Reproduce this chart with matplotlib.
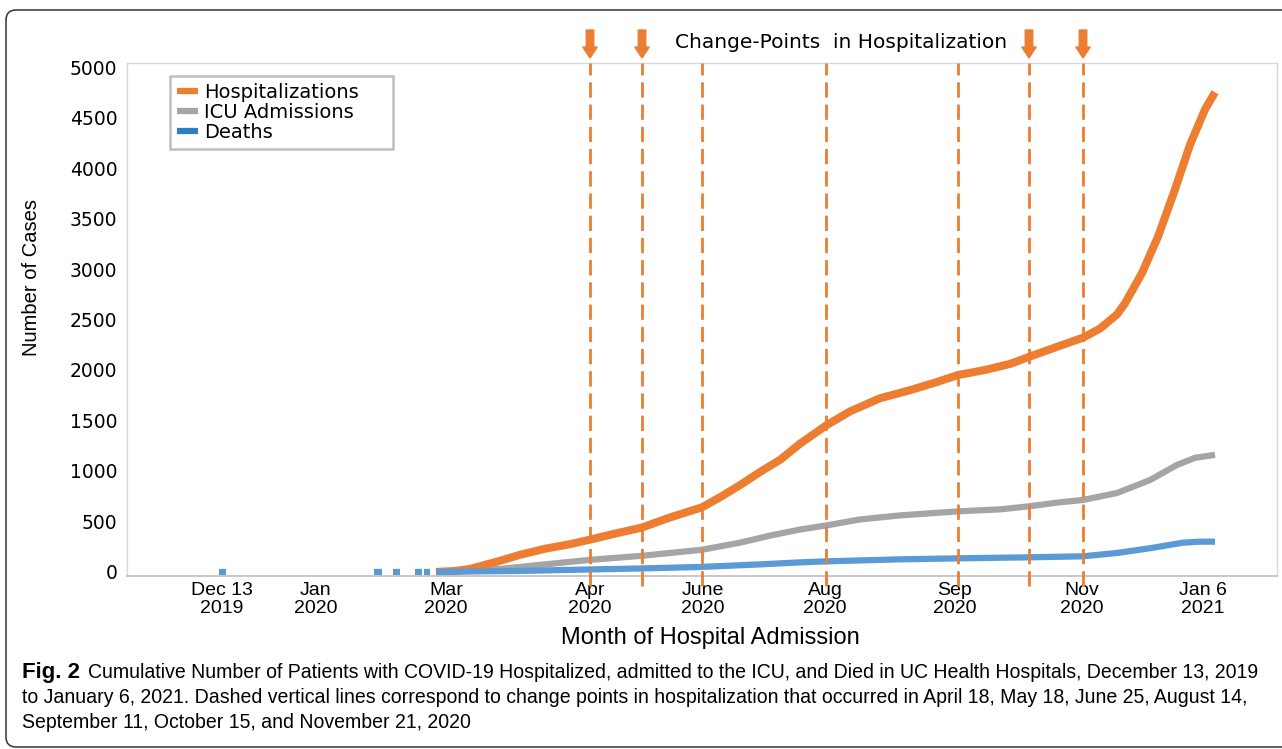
import matplotlib
matplotlib.use("Agg")
import matplotlib.pyplot as plt
import numpy as np
from matplotlib import font_manager
from matplotlib.lines import Line2D
from matplotlib.patches import FancyArrow, FancyBboxPatch
from matplotlib.transforms import IdentityTransform, blended_transform_factory

nan = np.nan

# x is a position along the (non-linear) admission-month axis
tick_pos = [9.5, 18.9, 31.9, 46.3, 57.6, 69.8, 82.8, 95.5, 107.6]
tick_labels = ["Dec 13\n2019", "Jan\n2020", "Mar\n2020", "Apr\n2020", "June\n2020",
               "Aug\n2020", "Sep\n2020", "Nov\n2020", "Jan 6\n2021"]

change_points = [46.3, 51.5, 57.5, 69.9, 83.1, 90.2, 95.6]
arrow_points = [46.3, 51.5, 90.2, 95.6]

hosp_x = [30.9, 32.8, 34.3, 35.8, 37.3, 39.3, 41.8, 44.3, 46.3, 48.8, 51.5, 54.3, 57.5,
          59.3, 61.3, 63.3, 65.3, 67.3, 69.9, 72.3, 75.3, 78.3, 80.8, 83.1, 85.8, 88.3,
          90.2, 93.3, 95.6, 97.3, 99.0, 99.8, 101.5, 103.1, 104.7, 106.3, 107.8, 108.8]
hosp_y = [0, 10, 30, 70, 110, 170, 230, 275, 320, 380, 440, 540, 640,
          740, 860, 990, 1110, 1270, 1450, 1590, 1720, 1800, 1875, 1950, 2000, 2060,
          2130, 2240, 2320, 2410, 2550, 2660, 2960, 3320, 3760, 4230, 4580, 4750]

icu_x = [30.9, 34.3, 37.3, 41.3, 46.3, 51.5, 57.5, 61.3, 64.3, 67.3, 69.9, 73.3, 77.3,
         83.1, 87.3, 90.2, 93.3, 95.6, 99.0, 102.3, 105.0, 106.8, 108.8]
icu_y = [0, 10, 30, 70, 120, 160, 220, 290, 360, 420, 460, 520, 560,
         600, 620, 650, 690, 713, 782, 910, 1060, 1130, 1160]

death_x = [9.2, 9.9, nan, 24.7, 25.5, nan, 26.6, 27.3, nan, 28.8, 29.5, nan, 29.7, 30.3, nan,
           30.9, 34.3, 39.3, 46.3, 51.5, 57.5, 63.3, 67.3, 69.9, 77.3, 83.1, 90.2, 95.6,
           99.0, 102.3, 105.6, 107.3, 108.8]
death_y = [0, 0, nan, 0, 0, nan, 0, 0, nan, 0, 0, nan, 0, 0, nan,
           0, 5, 10, 25, 35, 50, 75, 95, 105, 125, 135, 145, 155,
           188, 235, 290, 300, 300]

ORANGE = "#ED7D31"
GRAY = "#A5A5A5"
BLUE = "#5B9BD5"

W, H = 1282, 749
fig = plt.figure(figsize=(W / 100, H / 100), dpi=100)
fig.patch.set_facecolor("white")

names = {f.name for f in font_manager.fontManager.ttflist}
narrow = "Liberation Sans Narrow" if "Liberation Sans Narrow" in names else "Liberation Sans"


def fx(px):
    return px / W


def fy(py):
    return 1 - py / H


# axes box: x 127..1277, y 63..576 (pixels)
ax = fig.add_axes([fx(127), fy(576), (1277 - 127) / W, (576 - 63) / H])
ax.set_xlim(0, 115)
ax.set_ylim(-40, 5040)

ax.plot(icu_x, icu_y, color=GRAY, lw=4.5, solid_capstyle="butt", zorder=2, clip_on=False)
ax.plot(death_x, death_y, color=BLUE, lw=4.5, solid_capstyle="butt", zorder=2.5, clip_on=False)
ax.plot(hosp_x, hosp_y, color=ORANGE, lw=5.8, solid_capstyle="butt", zorder=2.2, clip_on=False)

for cp in change_points:
    ax.axvline(cp, ymin=-0.02, ymax=1.0, color=ORANGE, lw=2, dashes=(5.5, 2.5),
               zorder=3, clip_on=False)

# arrows above selected change points
trans = blended_transform_factory(ax.transData, fig.transFigure)
for cp in arrow_points:
    arr = FancyArrow(cp, fy(30), 0, -(58 - 30) / H, width=0.75, head_width=1.45,
                     head_length=11 / H, length_includes_head=True,
                     color=ORANGE, transform=trans, clip_on=False)
    fig.add_artist(arr)

for side in ["top", "right", "left"]:
    ax.spines[side].set_color("#D9D9D9")
    ax.spines[side].set_linewidth(1)
ax.spines["bottom"].set_color("#BFBFBF")
ax.spines["bottom"].set_linewidth(1.2)

ax.set_yticks(np.arange(0, 5001, 500))
ax.set_yticklabels([str(v) for v in range(0, 5001, 500)], fontsize=13.5,
                   family="DejaVu Sans")
ax.set_xticks(tick_pos)
ax.set_xticklabels(tick_labels, fontsize=14, family="Liberation Sans", linespacing=1.1)
ax.tick_params(axis="y", length=0, pad=7, colors="black")
ax.tick_params(axis="x", length=0, pad=4, colors="black")

handles = [Line2D([], [], color=ORANGE, lw=4.5, solid_capstyle="butt"),
           Line2D([], [], color=GRAY, lw=4.5, solid_capstyle="butt"),
           Line2D([], [], color="#2E7EC1", lw=4.5, solid_capstyle="butt")]
leg = ax.legend(handles, ["Hospitalizations", "ICU Admissions", "Deaths"],
                loc="upper left", mode="expand",
                bbox_to_anchor=(43 / 1150, (576 - 143) / 513, 223 / 1150, 67 / 513),
                borderaxespad=0, fancybox=False, framealpha=1, handlelength=1.1,
                handletextpad=0.3, labelspacing=0.05, borderpad=0.35,
                prop={"family": "DejaVu Sans", "size": 14})
leg.get_frame().set_edgecolor("#BFBFBF")
leg.get_frame().set_linewidth(1.8)

fig.text(fx(841), fy(42), "Change-Points  in Hospitalization", ha="center", va="center",
         fontsize=14.5, family="DejaVu Sans")
fig.text(fx(710), fy(638), "Month of Hospital Admission", ha="center", va="center",
         fontsize=17, family="Liberation Sans")
ylab_size = 19 if narrow == "Liberation Sans Narrow" else 14.5
fig.text(fx(32), fy(278), "Number of Cases", ha="center", va="center", rotation=90,
         fontsize=ylab_size, family=narrow)

# outer frame of the figure panel
frame = FancyBboxPatch((6, 2), 1300, 737, boxstyle="round,pad=0,rounding_size=10",
                       transform=IdentityTransform(), facecolor="none",
                       edgecolor="#333333", lw=1.1)
fig.patches.append(frame)

# caption
renderer = fig.canvas.get_renderer()


def fit_width(txt, target_px):
    w = txt.get_window_extent(renderer).width
    txt.set_fontsize(txt.get_fontsize() * target_px / w)


fig_lbl = fig.text(fx(22), fy(678), "Fig. 2", fontsize=13, weight="bold", family=narrow,
                   va="baseline")
fit_width(fig_lbl, 58)
line1 = fig.text(fx(88), fy(678),
                 "Cumulative Number of Patients with COVID-19 Hospitalized, admitted to the ICU, "
                 "and Died in UC Health Hospitals, December 13, 2019",
                 fontsize=13, family=narrow, va="baseline")
fit_width(line1, 1258 - 88)
cap_size = line1.get_fontsize()
fig.text(fx(22), fy(703),
         "to January 6, 2021. Dashed vertical lines correspond to change points in hospitalization "
         "that occurred in April 18, May 18, June 25, August 14,",
         fontsize=cap_size, family=narrow, va="baseline")
fig.text(fx(22), fy(728), "September 11, October 15, and November 21, 2020",
         fontsize=cap_size, family=narrow, va="baseline")

fig.savefig("out.png", dpi=100)
